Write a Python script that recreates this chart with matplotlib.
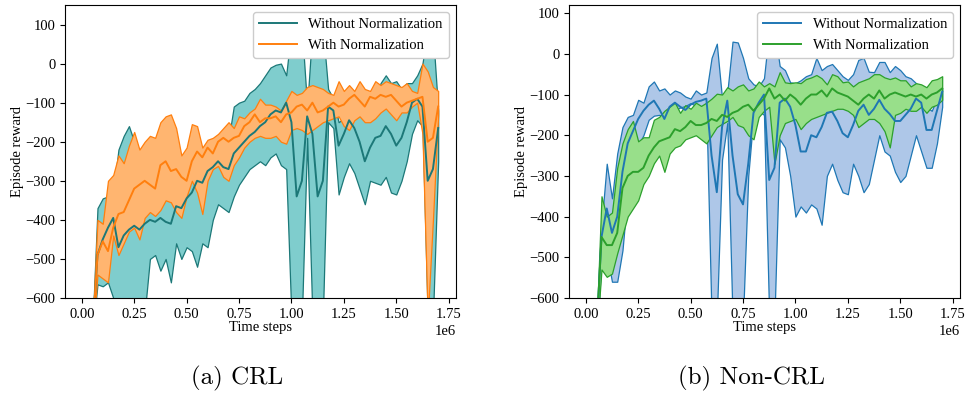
import matplotlib
matplotlib.use("Agg")
import matplotlib.pyplot as plt
import numpy as np

plt.rcParams['font.family'] = ['Liberation Serif', 'DejaVu Serif']
plt.rcParams['font.size'] = 10.5

# time steps (thousands)
steps_k = [50, 75, 100, 125, 150, 175, 200, 225, 250, 275,
           300, 325, 350, 375, 400, 425, 450, 475, 500, 525,
           550, 575, 600, 625, 650, 675, 700, 725, 750, 775,
           800, 825, 850, 875, 900, 925, 950, 975, 1000, 1025,
           1050, 1075, 1100, 1125, 1150, 1175, 1200, 1225, 1250, 1275,
           1300, 1325, 1350, 1375, 1400, 1425, 1450, 1475, 1500, 1525,
           1550, 1575, 1600, 1625, 1650, 1675, 1700]

# (a) CRL - Without Normalization
crl_wo_mean = [-700, -490, -450, -420, -395, -470, -440, -425, -415, -425,
               -410, -400, -405, -395, -405, -410, -365, -370, -345, -330,
               -300, -305, -275, -265, -250, -265, -270, -230, -215, -200,
               -185, -175, -160, -150, -130, -120, -125, -100, -150, -340,
               -300, -135, -180, -340, -300, -110, -120, -210, -180, -145,
               -165, -200, -250, -215, -190, -185, -160, -180, -210, -190,
               -150, -100, -90, -110, -300, -270, -165]
crl_wo_lo = [-700, -565, -570, -560, -600, -650, -650, -650, -650, -650,
             -640, -500, -490, -530, -500, -560, -460, -500, -470, -480,
             -520, -460, -470, -400, -360, -370, -380, -340, -310, -290,
             -270, -260, -250, -260, -240, -230, -260, -270, -650, -650,
             -650, -190, -650, -650, -650, -150, -165, -335, -290, -255,
             -280, -320, -360, -300, -305, -310, -290, -330, -335, -300,
             -250, -180, -145, -160, -650, -650, -250]
crl_wo_hi = [-690, -370, -345, -340, -330, -220, -185, -160, -200, -240,
             -300, -300, -290, -280, -280, -270, -270, -260, -250, -250,
             -245, -240, -240, -220, -210, -200, -195, -110, -100, -95,
             -75, -65, -50, -30, -10, -3, 0, -30, 90, 100,
             90, -110, 90, 100, 90, -65, -90, -150, -140, -125,
             -125, -130, -135, -120, -110, -50, -30, -50, -45, -65,
             -50, -50, -30, 0, 90, 80, -120]

# (a) CRL - With Normalization
crl_w_mean = [-700, -490, -455, -480, -420, -385, -380, -350, -320, -310,
              -300, -310, -320, -260, -250, -275, -270, -290, -300, -250,
              -225, -240, -215, -230, -200, -190, -200, -190, -185, -160,
              -150, -130, -150, -140, -140, -135, -150, -130, -125, -110,
              -105, -120, -100, -125, -120, -110, -100, -110, -105, -90,
              -80, -95, -110, -85, -90, -80, -85, -80, -95, -110,
              -100, -95, -90, -85, -200, -190, -110]
crl_w_lo = [-710, -540, -550, -560, -440, -490, -460, -430, -420, -450,
            -395, -380, -390, -375, -350, -355, -380, -395, -340, -300,
            -330, -385, -300, -270, -262, -290, -300, -260, -240, -215,
            -200, -190, -185, -190, -190, -185, -200, -205, -170, -165,
            -170, -180, -170, -160, -150, -145, -140, -135, -160, -170,
            -145, -135, -150, -150, -140, -125, -115, -130, -145, -125,
            -125, -110, -100, -180, -650, -400, -130]
crl_w_hi = [-690, -400, -410, -300, -285, -235, -255, -210, -175, -220,
            -200, -185, -190, -150, -135, -130, -165, -235, -215, -155,
            -160, -215, -195, -190, -180, -165, -150, -165, -135, -140,
            -125, -115, -90, -105, -105, -110, -120, -95, -70, -80,
            -75, -60, -55, -60, -65, -75, -80, -45, -70, -55,
            -70, -45, -65, -70, -45, -55, -45, -50, -55, -60,
            -50, -70, -75, 0, -20, -60, -70]

# (b) Non-CRL - Without Normalization
ncrl_wo_mean = [-700, -450, -380, -440, -400, -290, -220, -190, -160, -140,
                -125, -115, -135, -160, -130, -120, -130, -138, -125, -118,
                -115, -110, -250, -340, -180, -115, -250, -345, -370, -270,
                -145, -120, -100, -310, -280, -120, -110, -130, -175, -240,
                -240, -200, -205, -180, -145, -142, -165, -195, -205, -175,
                -140, -125, -150, -135, -113, -135, -148, -165, -165, -150,
                -135, -110, -120, -187, -187, -140, -93]
ncrl_wo_lo = [-710, -510, -490, -560, -560, -483, -340, -240, -225, -200,
              -162, -152, -150, -155, -140, -138, -132, -128, -121, -128,
              -135, -130, -650, -650, -260, -170, -650, -650, -650, -300,
              -150, -140, -150, -650, -650, -210, -230, -300, -400, -375,
              -390, -370, -380, -420, -300, -270, -310, -340, -345, -270,
              -300, -340, -320, -260, -200, -240, -250, -290, -315, -300,
              -250, -200, -240, -280, -280, -220, -130]
ncrl_wo_hi = [-690, -420, -270, -355, -245, -180, -155, -150, -113, -120,
              -80, -68, -90, -85, -100, -90, -95, -105, -110, -90,
              -100, -95, -10, 25, -110, -95, 30, 28, -10, -60,
              -75, -80, -60, 60, 60, -30, -40, -70, -72, -65,
              -55, -50, -10, -40, -30, -25, -40, -55, -64, -50,
              -15, -10, -44, -45, -20, -20, -45, -30, -40, -55,
              -60, -72, -90, -130, -140, -110, -85]

# (b) Non-CRL - With Normalization
ncrl_w_mean = [-700, -450, -470, -470, -440, -330, -300, -290, -290, -280,
               -250, -230, -215, -210, -205, -185, -190, -180, -165, -175,
               -175, -170, -160, -165, -150, -155, -145, -140, -130, -125,
               -140, -125, -110, -85, -110, -100, -115, -100, -110, -125,
               -110, -100, -100, -90, -105, -85, -95, -100, -105, -115,
               -125, -110, -100, -110, -90, -110, -100, -95, -100, -105,
               -100, -105, -100, -110, -100, -95, -85]
ncrl_w_lo = [-710, -530, -548, -540, -490, -445, -400, -380, -360, -320,
             -300, -269, -250, -290, -245, -230, -225, -210, -205, -200,
             -210, -220, -200, -180, -172, -165, -155, -175, -180, -200,
             -210, -155, -140, -130, -270, -200, -170, -165, -160, -185,
             -170, -160, -155, -150, -145, -140, -135, -135, -140, -150,
             -180, -170, -160, -160, -170, -190, -230, -150, -145, -135,
             -140, -140, -130, -145, -130, -125, -113]
ncrl_w_hi = [-690, -350, -400, -390, -280, -220, -185, -165, -215, -205,
             -205, -162, -155, -140, -130, -120, -145, -126, -135, -120,
             -128, -120, -110, -98, -100, -82, -90, -80, -75, -90,
             -85, -68, -80, -72, -80, -45, -70, -72, -70, -72,
             -62, -58, -52, -60, -75, -50, -55, -70, -68, -80,
             -70, -65, -60, -50, -50, -58, -62, -58, -65, -65,
             -80, -72, -75, -82, -65, -62, -55]

steps = np.array(steps_k) * 1000.0

fig = plt.figure(figsize=(9.68, 3.99), dpi=100)
ax1 = fig.add_axes([65/968, 1-298/399, 391/968, 293/399])
ax2 = fig.add_axes([569/968, 1-298/399, 391/968, 293/399])

def draw(ax, series, ylim):
    for mean, lo, hi, lc, fc, label in series:
        ax.fill_between(steps, lo, hi, facecolor=fc, edgecolor=lc, linewidth=0.9, zorder=1)
    for mean, lo, hi, lc, fc, label in series:
        ax.plot(steps, mean, color=lc, linewidth=1.4, label=label, zorder=3)
    ax.set_xlim(-0.08e6, 1.785e6)
    ax.set_ylim(*ylim)
    ax.set_xticks([0, 0.25e6, 0.5e6, 0.75e6, 1.0e6, 1.25e6, 1.5e6, 1.75e6])
    ax.set_yticks([-600, -500, -400, -300, -200, -100, 0, 100])
    ax.set_xlabel('Time steps', labelpad=0)
    ax.set_ylabel('Episode reward', labelpad=1)
    ax.tick_params(labelsize=10.5)
    ax.xaxis.get_offset_text().set_fontsize(10.5)
    leg = ax.legend(loc='upper right', fontsize=10.5, handlelength=2.6, framealpha=1.0)
    leg.set_zorder(10)

draw(ax1, [
    (crl_wo_mean, crl_wo_lo, crl_wo_hi, '#1c7878', '#7fcdcd', 'Without Normalization'),
    (crl_w_mean, crl_w_lo, crl_w_hi, '#ff7f0e', '#ffb570', 'With Normalization'),
], (-600, 150))

draw(ax2, [
    (ncrl_wo_mean, ncrl_wo_lo, ncrl_wo_hi, '#1f77b4', '#aec7e8', 'Without Normalization'),
    (ncrl_w_mean, ncrl_w_lo, ncrl_w_hi, '#2ca02c', '#98df8a', 'With Normalization'),
], (-600, 120))

fig.text(237/968, 1-378/399, '(a) CRL', family='cmr10', fontsize=18, ha='center', va='center')
fig.text(751/968, 1-378/399, '(b) Non-CRL', family='cmr10', fontsize=18, ha='center', va='center')

fig.savefig('out.png', dpi=100)
